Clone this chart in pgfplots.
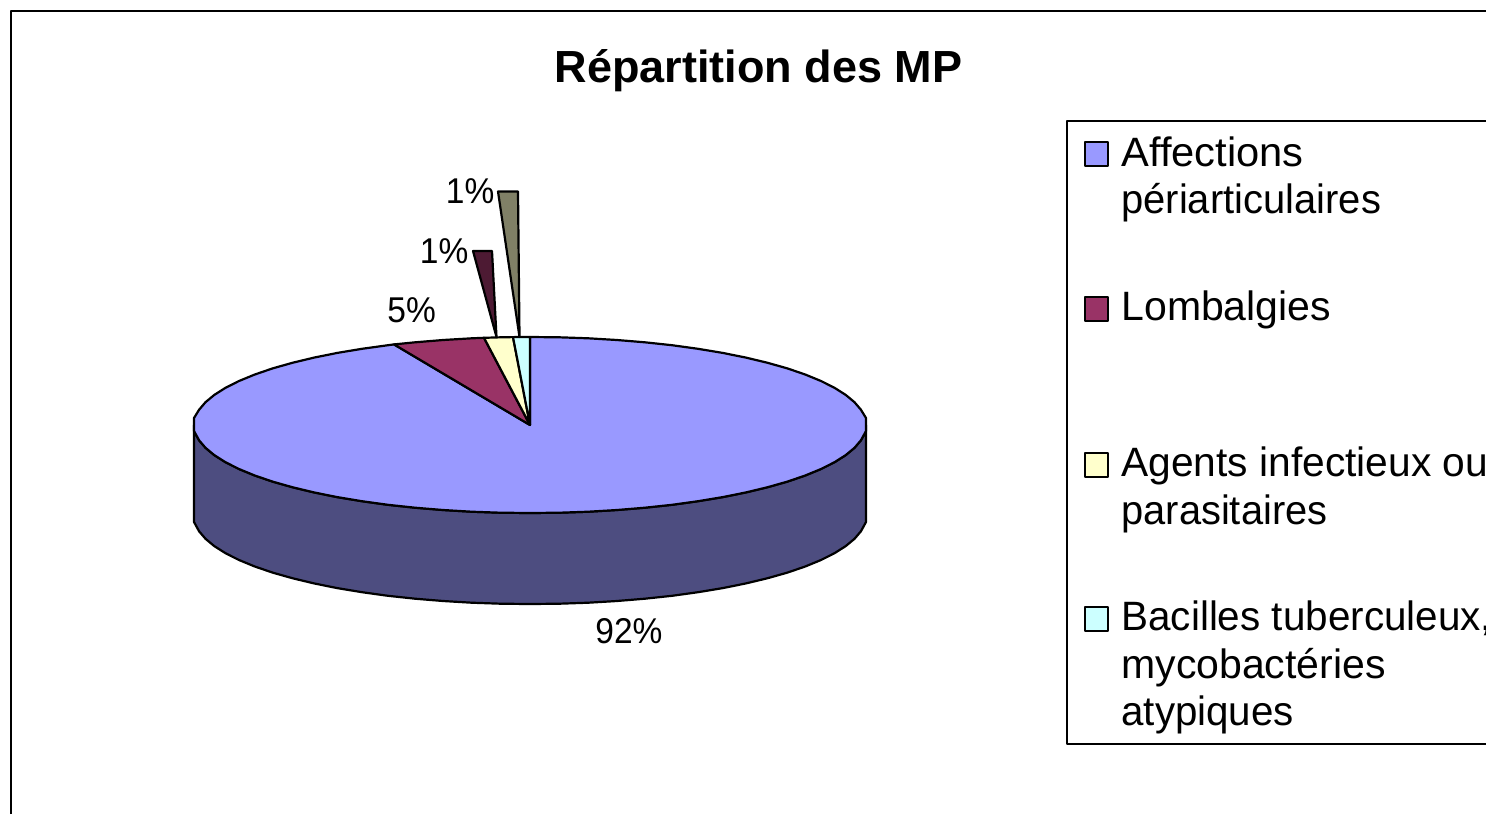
\documentclass[border=0pt]{standalone}
\usepackage{fontspec}
\setmainfont[Ligatures=NoCommon]{Liberation Sans}
\usepackage{graphicx}
\usepackage{pgfplots}
\pgfplotsset{compat=1.18}
\definecolor{cBlue}{HTML}{9999FF}
\definecolor{cBlueD}{HTML}{4D4D80}
\definecolor{cMaroon}{HTML}{993366}
\definecolor{cMaroonD}{HTML}{4D1A33}
\definecolor{cYellow}{HTML}{FFFFCC}
\definecolor{cOlive}{HTML}{808066}
\definecolor{cCyan}{HTML}{CCFFFF}
\newcommand{\leg}[2][1]{\scalebox{#1}[1]{\fontsize{20.5pt}{23.7pt}\selectfont #2}}
\newcommand{\lab}[1]{\scalebox{1}[1.07]{\fontsize{16.75pt}{20pt}\selectfont #1}}
\begin{document}
\begin{tikzpicture}
\clip (0,0) rectangle (743pt,407pt);
\begin{axis}[
  scale only axis, width=743pt, height=407pt,
  xmin=0, xmax=1486, ymin=0, ymax=814, y dir=reverse,
  hide axis, clip=false, no markers,
  every axis plot/.append style={line join=round, line width=1.1pt, draw=black, solid},
]
% outer frame
\addplot[] coordinates {(11,814)(11,11)(1486,11)};
% side wall
\addplot[fill=cBlueD] coordinates {
(866,425)(866,431)(860.9,440.3)(854.5,447.8)(845.7,455.1)(834.5,462.2)(821,469)(805.2,475.5)(787.4,481.6)(767.6,487.2)(746,492.4)(722.7,497.1)(698,501.2)(672,504.8)(644.9,507.7)(617,510)(588.3,511.7)(559.3,512.7)(530,513)
(500.7,512.7)(471.7,511.7)(443,510)(415.1,507.7)(388,504.8)(362,501.2)(337.3,497.1)(314,492.4)(292.4,487.2)(272.6,481.6)(254.8,475.5)(239,469)(225.5,462.2)(214.3,455.1)(205.5,447.8)(199.1,440.3)(194,431)(194,425)
(194,522)(199.1,531.3)(205.5,538.8)(214.3,546.1)(225.5,553.2)(239,560)(254.8,566.5)(272.6,572.6)(292.4,578.2)(314,583.4)(337.3,588.1)(362,592.2)(388,595.8)(415.1,598.7)(443,601)(471.7,602.7)(500.7,603.7)(530,604)(559.3,603.7)(588.3,602.7)(617,601)(644.9,598.7)(672,595.8)(698,592.2)(722.7,588.1)(746,583.4)(767.6,578.2)(787.4,572.6)(805.2,566.5)(821,560)(834.5,553.2)(845.7,546.1)(854.5,538.8)(860.9,531.3)(866,522)
} --cycle;
% Affections periarticulaires, 92 %
\addplot[fill=cBlue] coordinates {
(530,425)(530,337)(559.3,337.3)(588.3,338.3)(617,340)(644.9,342.3)(672,345.2)(698,348.8)(722.7,352.9)(746,357.6)(767.6,362.8)(787.4,368.4)(805.2,374.5)(821,381)(834.5,387.8)(845.7,394.9)(854.5,402.2)(860.9,409.7)(866,418)(866,431)
(860.9,440.3)(854.5,447.8)(845.7,455.1)(834.5,462.2)(821,469)(805.2,475.5)(787.4,481.6)(767.6,487.2)(746,492.4)(722.7,497.1)(698,501.2)(672,504.8)(644.9,507.7)(617,510)(588.3,511.7)(559.3,512.7)(530,513)
(500.7,512.7)(471.7,511.7)(443,510)(415.1,507.7)(388,504.8)(362,501.2)(337.3,497.1)(314,492.4)(292.4,487.2)(272.6,481.6)(254.8,475.5)(239,469)(225.5,462.2)(214.3,455.1)(205.5,447.8)(199.1,440.3)(194,431)(194,418)
(199.1,409.7)(205.5,402.2)(214.3,394.9)(225.5,387.8)(239,381)(254.8,374.5)(272.6,368.4)(292.4,362.8)(314,357.6)(337.3,352.9)(362,348.8)(388,345.2)(394,344.4)
} --cycle;
% Lombalgies, 5 %
\addplot[fill=cMaroon] coordinates {(530,425)(394,344.4)(415.1,342.3)(443,340)(471.7,338.3)(484,337.8)} --cycle;
% Agents infectieux, 1 %
\addplot[fill=cYellow] coordinates {(530,425)(484,337.8)(500.7,337.3)(513,337.1)} --cycle;
% Bacilles tuberculeux, 1 %
\addplot[fill=cCyan] coordinates {(530,425)(513,337.1)(530,337)} --cycle;
% raised side faces of the two small slices
\addplot[fill=cMaroonD] coordinates {(473,251)(492,251)(496.5,337)} --cycle;
\addplot[fill=cOlive] coordinates {(498,191.5)(518,191.5)(519.5,337)} --cycle;
% legend box
\addplot[fill=white] coordinates {(1490,121)(1067,121)(1067,744)(1490,744)};
\addplot[fill=cBlue] coordinates {(1085,142)(1108,142)(1108,166)(1085,166)} --cycle;
\addplot[fill=cMaroon] coordinates {(1085,297)(1108,297)(1108,321)(1085,321)} --cycle;
\addplot[fill=cYellow] coordinates {(1085,453)(1108,453)(1108,477)(1085,477)} --cycle;
\addplot[fill=cCyan] coordinates {(1085,607)(1108,607)(1108,631)(1085,631)} --cycle;
% title
\node[anchor=base, inner sep=0pt] at (axis cs:758.5,82.5) {\fontsize{22.5pt}{26pt}\selectfont\bfseries Répartition des MP};
% data labels
\node[anchor=base west, inner sep=0pt] at (axis cs:445.5,203) {\lab{1\%}};
\node[anchor=base west, inner sep=0pt] at (axis cs:419.5,263) {\lab{1\%}};
\node[anchor=base west, inner sep=0pt] at (axis cs:387,322) {\lab{5\%}};
\node[anchor=base west, inner sep=0pt] at (axis cs:595,643.5) {\lab{92\%}};
% legend text
\node[anchor=base west, inner sep=0pt] at (axis cs:1121,166) {\leg[1.016]{Affections}};
\node[anchor=base west, inner sep=0pt] at (axis cs:1121,213) {\leg[0.974]{périarticulaires}};
\node[anchor=base west, inner sep=0pt] at (axis cs:1121,320) {\leg{Lombalgies}};
\node[anchor=base west, inner sep=0pt] at (axis cs:1121,476) {\leg[0.993]{Agents infectieux ou}};
\node[anchor=base west, inner sep=0pt] at (axis cs:1121,524) {\leg[0.972]{parasitaires}};
\node[anchor=base west, inner sep=0pt] at (axis cs:1121,630) {\leg[0.986]{Bacilles tuberculeux,}};
\node[anchor=base west, inner sep=0pt] at (axis cs:1121,678) {\leg{mycobactéries}};
\node[anchor=base west, inner sep=0pt] at (axis cs:1121,725) {\leg[0.983]{atypiques}};
\end{axis}
\end{tikzpicture}
\end{document}
